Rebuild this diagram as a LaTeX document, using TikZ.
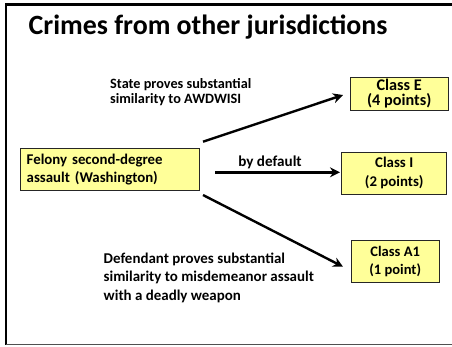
\documentclass[tikz,border=0pt]{standalone}
\usepackage{fontspec}
\setmainfont{Carlito}
\usetikzlibrary{arrows.meta}
\definecolor{boxfill}{RGB}{255,255,153}
\definecolor{framegray}{RGB}{80,80,80}
\tikzset{
  box/.style={draw=black!85, line width=0.9bp, fill=boxfill, inner sep=0pt, font=\bfseries},
  lbl/.style={inner sep=0pt, align=left, font=\bfseries},
  arr/.style={line width=2.4bp, -{Stealth[length=10bp,width=10bp]}}
}
\begin{document}
\begin{tikzpicture}[x=1bp,y=-1bp]
\useasboundingbox (0,0) rectangle (452,346);
\fill[white] (0,0) rectangle (452,346);
% frame
\draw[line width=2.2bp, black] (460,4.5) -- (6,4.5) -- (6,344.5);
\draw[line width=1.6bp, framegray] (6,344.5) -- (460,344.5);
% title
\node[lbl, anchor=base west, font=\bfseries\fontsize{28}{32}\selectfont] (title) at (28.5,34) {Crimes from other jurisdictions};
% boxes
\node[box, minimum width=178.6bp, minimum height=42.7bp, font=\bfseries\fontsize{14.9}{18.5}\selectfont, align=left, text width=166.6bp] (felony) at (110,169.3) {Felony second-degree\\assault (Washington)};
\node[box, minimum width=98.3bp, minimum height=32.6bp, align=center, font=\bfseries\fontsize{16.3}{15}\selectfont] (classE) at (399.2,94) {Class E\\(4 points)};
\node[box, minimum width=105bp, minimum height=41.7bp, align=center, font=\bfseries\fontsize{14.9}{19}\selectfont] (classI) at (394.2,173.2) {Class I\\(2 points)};
\node[box, minimum width=88.3bp, minimum height=41.6bp, align=center, font=\bfseries\fontsize{14.6}{19}\selectfont] (classA) at (395.2,261.5) {Class A1\\(1 point)};
% labels
\node[lbl, anchor=west, font=\bfseries\fontsize{14.3}{15}\selectfont] (lblE) at (110,92) {State proves substantial\\similarity to AWDWISI};
\node[lbl, font=\bfseries\fontsize{15.2}{17}\selectfont] (lblI) at (270,162) {by default};
\node[lbl, anchor=west, font=\bfseries\fontsize{15}{18.5}\selectfont] (lblA) at (103.5,277.5) {Defendant proves substantial\\similarity to misdemeanor assault\\with a deadly weapon};
% arrow endpoints
\coordinate (sE) at (203,141.7);
\coordinate (eE) at (343,95);
\coordinate (sI) at (215,172.3);
\coordinate (eI) at (340,172.3);
\coordinate (sA) at (203,195);
\coordinate (eA) at (343,266.7);
\draw[arr] (sE) -- (eE);
\draw[arr] (sI) -- (eI);
\draw[arr] (sA) -- (eA);
\end{tikzpicture}
\end{document}
